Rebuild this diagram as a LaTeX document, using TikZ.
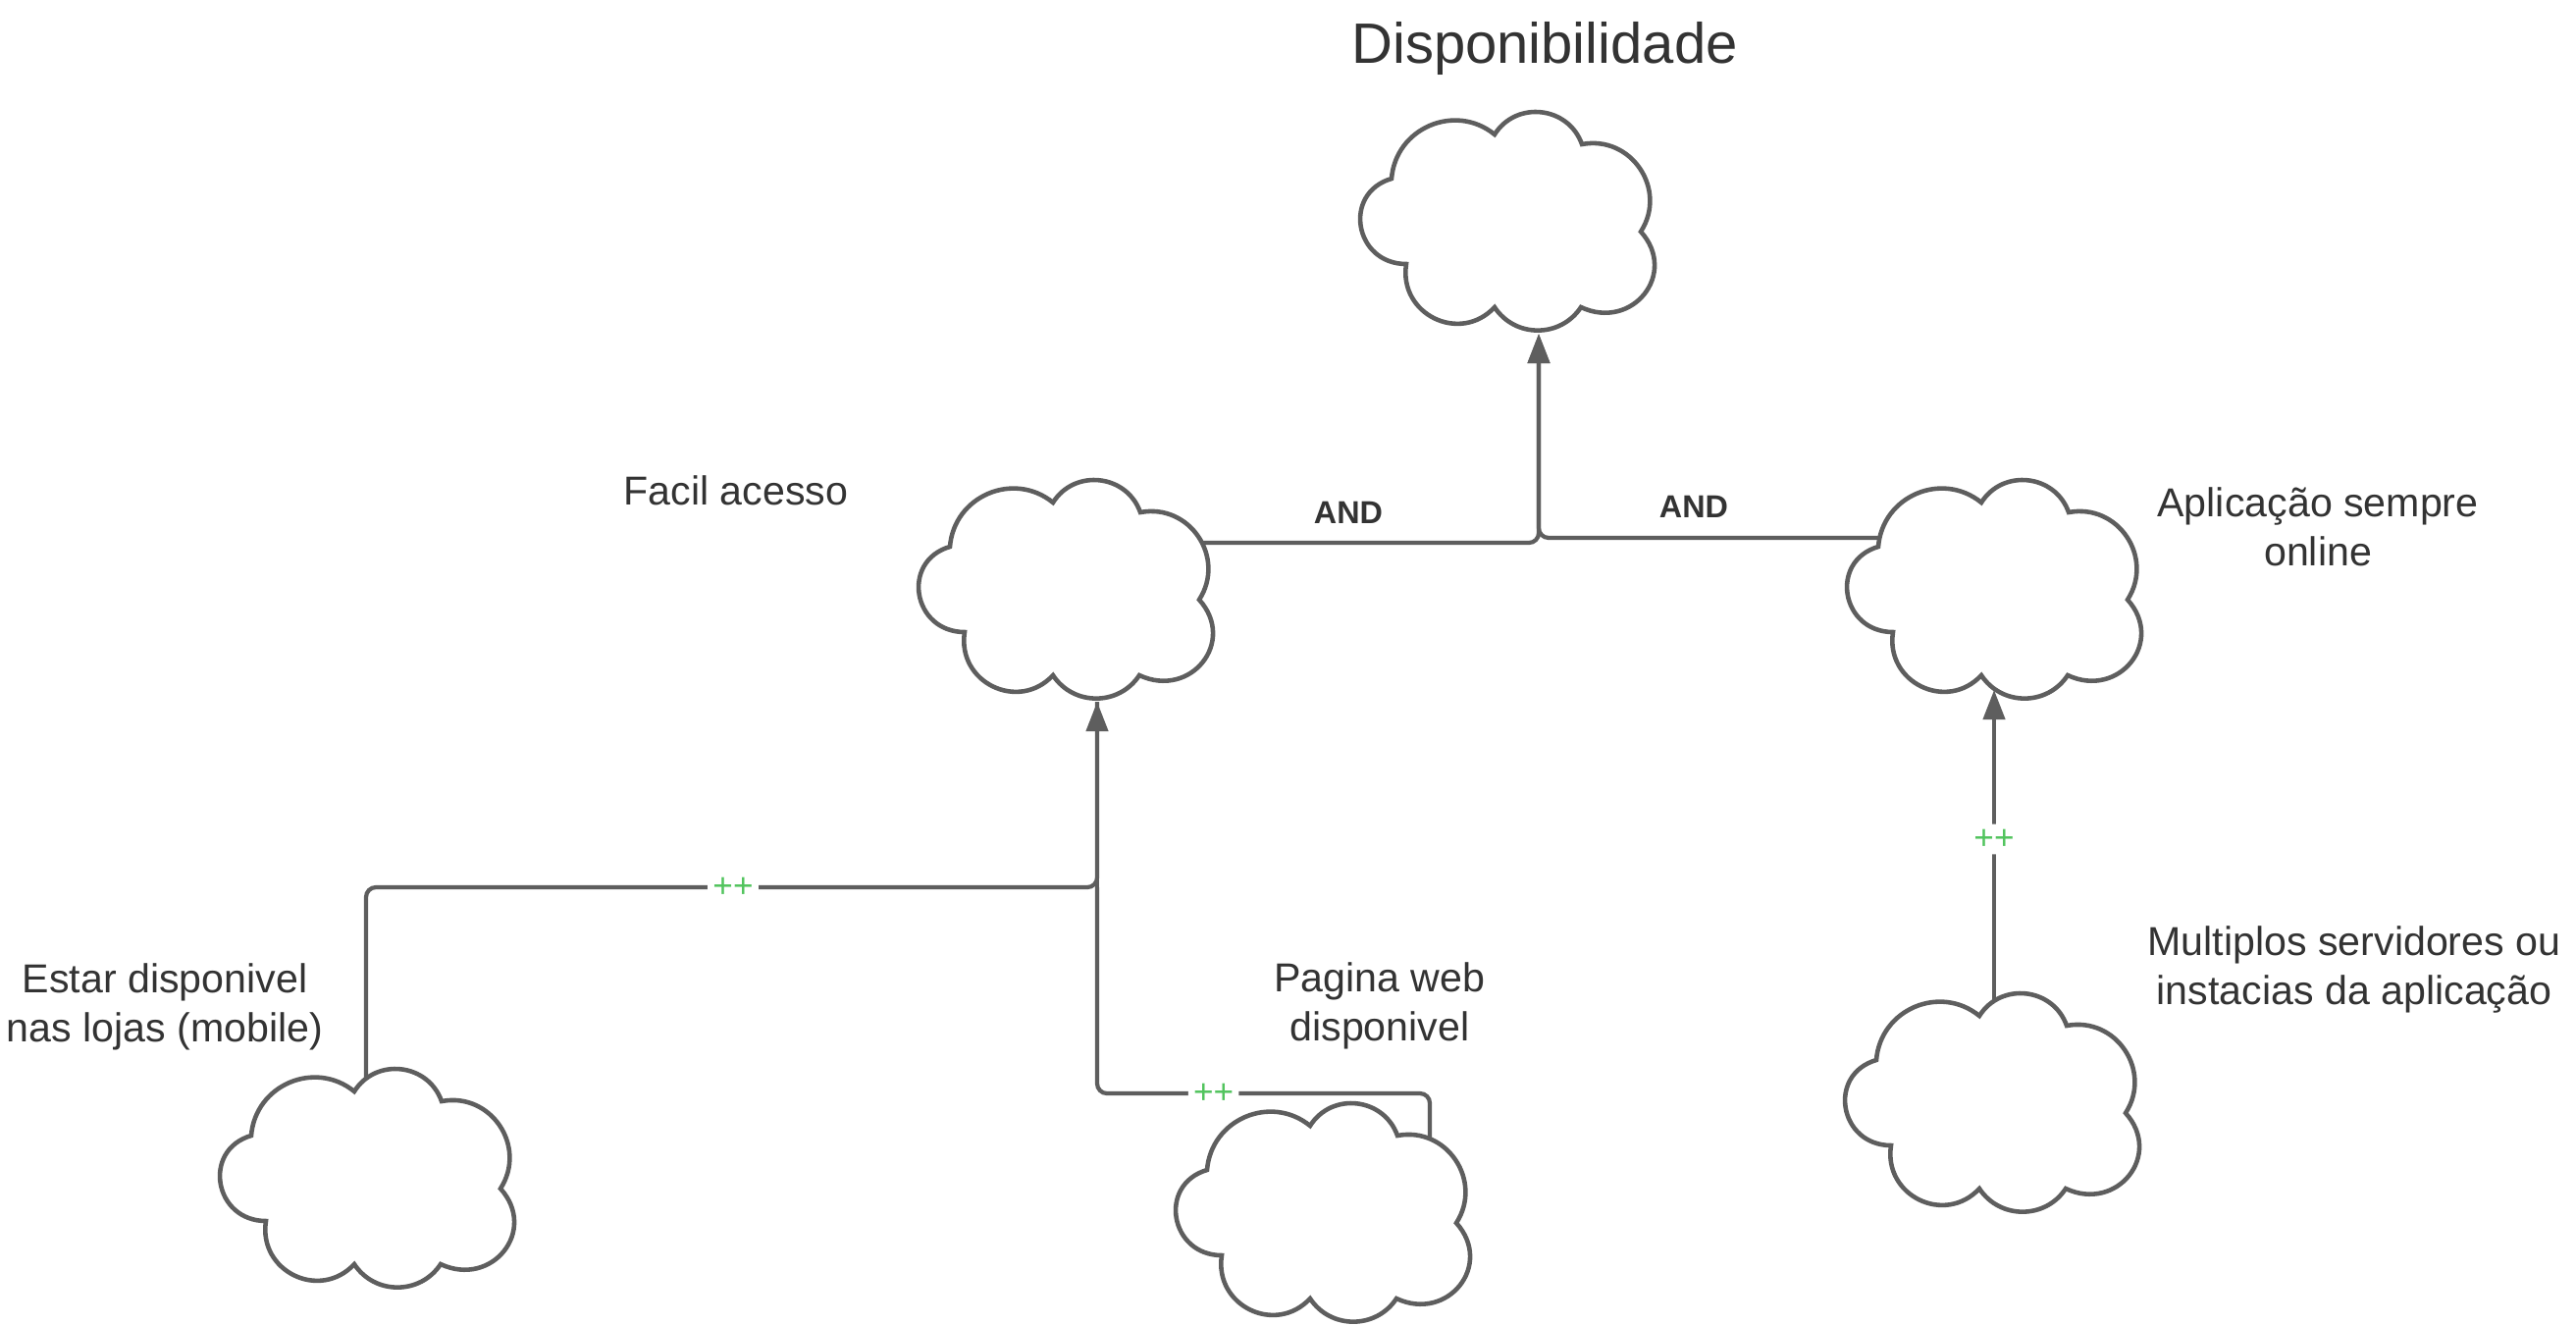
\documentclass[tikz,border=0pt]{standalone}
\usepackage{fontspec}
\setmainfont{Liberation Sans}
\usetikzlibrary{arrows.meta,calc}
\definecolor{linegray}{RGB}{94,94,94}
\definecolor{textgray}{RGB}{51,51,51}
\definecolor{plusgreen}{RGB}{82,196,94}
\newcommand\drawcloud[1]{%
  \begin{scope}[shift={(#1.south west)}]
    \draw[cloudline] (32,156)
      to[out=85.5,in=140.9,looseness=1.16] (137,201)
      to[out=57.7,in=109.5,looseness=1.18] (226,191)
      to[out=10.8,in=57.2,looseness=1.22] (286,102)
      to[out=-48,in=-25,looseness=1.5] (225,25)
      to[out=-123.4,in=-56.6,looseness=1.1] (137,25)
      to[out=227,in=261,looseness=1.32] (47,69)
      to[out=180,in=196.4,looseness=1.53] (32,156) -- cycle;
  \end{scope}}
\begin{document}
\begin{tikzpicture}[x=0.01cm,y=0.01cm,
  cloudbox/.style={rectangle,draw=none,inner sep=0pt,outer sep=0pt,minimum width=2.98cm,minimum height=2.26cm,anchor=south west},
  cloudline/.style={draw=linegray,line width=1.3pt,fill=white},
  conn/.style={draw=linegray,line width=1.2pt,rounded corners=0.1cm,-{Triangle[length=0.3cm,width=0.22cm]}},
  link/.style={draw=linegray,line width=1.2pt,rounded corners=0.1cm},
  lbl/.style={text=textgray,font=\fontsize{11.7pt}{14.2pt}\selectfont,align=center,inner sep=0pt},
  andlbl/.style={text=textgray,font=\bfseries\fontsize{9.2pt}{11pt}\selectfont,inner sep=0pt},
  pluslbl/.style={text=plusgreen,fill=white,font=\fontsize{10pt}{12pt}\selectfont,inner sep=1.5pt},
]
\useasboundingbox[fill=white] (0,0) rectangle (2625,1350);

% cloud placeholders
\node[cloudbox] (T) at (1386,1012) {};
\node[cloudbox] (F) at (936,637) {};
\node[cloudbox] (A) at (1882,637) {};
\node[cloudbox] (E) at (224,37) {};
\node[cloudbox] (P) at (1198,2) {};
\node[cloudbox] (M) at (1880,114) {};

% connection points
\coordinate (Ttip) at ($(T.south west)+(182,-2)$);
\coordinate (Ftip) at ($(F.south west)+(182,-2)$);
\coordinate (Atip) at ($(A.south west)+(150,10)$);
\coordinate (Fs) at ($(F.south west)+(270,160)$);
\coordinate (As) at ($(A.south west)+(60,165)$);
\coordinate (Es) at ($(E.south west)+(149,150)$);
\coordinate (Ps) at ($(P.south west)+(259,150)$);
\coordinate (Ms) at ($(M.south west)+(152,150)$);
\coordinate (J1) at ($(Ftip)+(0,-189)$);
\coordinate (J2) at ($(Ftip)+(0,-399)$);

% connectors
\draw[conn] (Fs) -| (Ttip);
\draw[conn] (As) -| (Ttip);
\draw[link] (Es) |- node[pluslbl,pos=0.751]{++} (J1) -- (Ftip);
\draw[link] (Ps) |- node[pluslbl,pos=0.825]{++} (J2) -- (J1);
\draw[conn] (J1) -- (Ftip);
\draw[conn] (Ms) -- node[pluslbl,pos=0.603]{++} (Atip);

% clouds
\drawcloud{T}
\drawcloud{F}
\drawcloud{A}
\drawcloud{E}
\drawcloud{P}
\drawcloud{M}

% labels
\node[text=textgray,font=\fontsize{16.5pt}{20pt}\selectfont,inner sep=0pt] (title) at (1574,1301) {Disponibilidade};
\node[lbl] (lF) at (750,850) {Facil acesso};
\node[lbl] (lA) at (2362,813) {Aplicação sempre\\online};
\node[lbl] (lE) at (168,324) {Estar disponivel\\nas lojas (mobile)};
\node[lbl] (lP) at (1406,325) {Pagina web\\disponivel};
\node[lbl] (lM) at (2399,362) {Multiplos servidores ou\\instacias da aplicação};
\node[andlbl] (and1) at (1374,828) {AND};
\node[andlbl] (and2) at (1726,834) {AND};
\end{tikzpicture}
\end{document}
